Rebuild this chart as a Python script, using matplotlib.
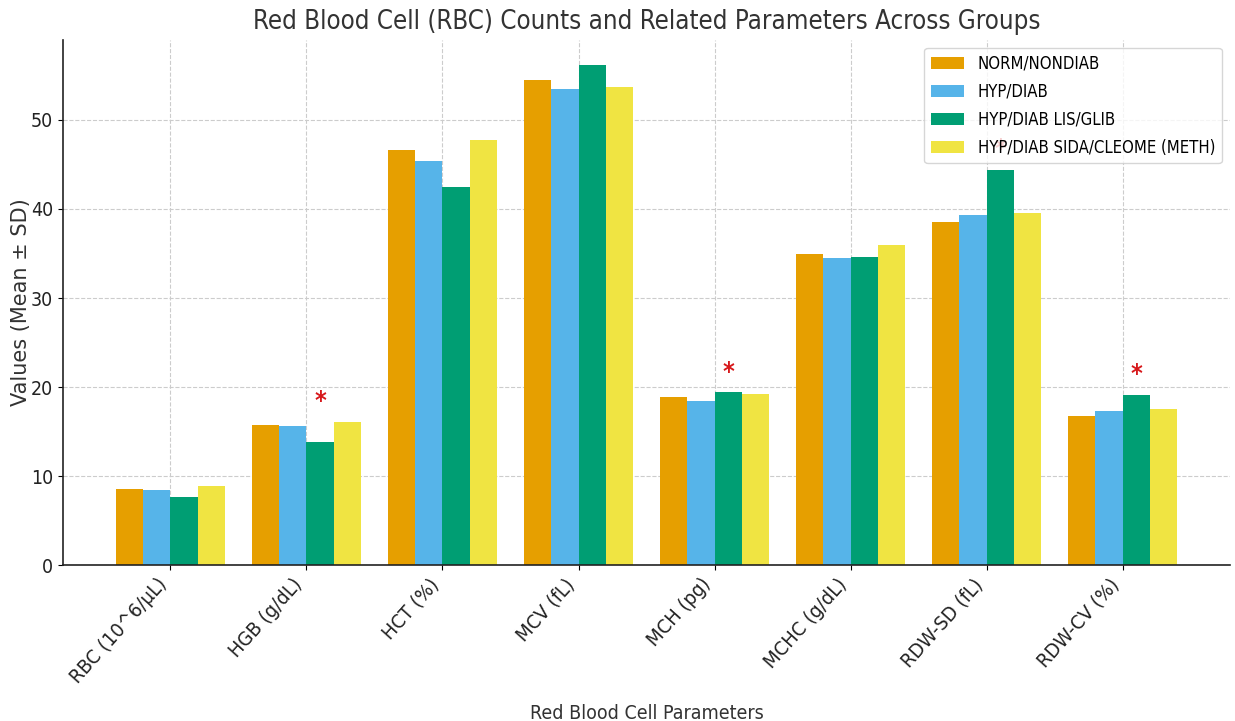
import matplotlib
matplotlib.use("Agg")
import matplotlib.pyplot as plt
import numpy as np

plt.rcParams["font.family"] = ["DejaVu Sans"]
plt.rcParams["font.stretch"] = "condensed"

parameters = ["RBC (10^6/µL)", "HGB (g/dL)", "HCT (%)", "MCV (fL)",
              "MCH (pg)", "MCHC (g/dL)", "RDW-SD (fL)", "RDW-CV (%)"]

norm_nondiab = [8.56, 15.77, 46.66, 54.5, 18.9, 35.0, 38.5, 16.8]
hyp_diab = [8.45, 15.65, 45.4, 53.5, 18.4, 34.5, 39.35, 17.3]
hyp_diab_lis_glib = [7.62, 13.85, 42.45, 56.2, 19.45, 34.65, 44.4, 19.15]
hyp_diab_sida_cleome = [8.93, 16.14, 47.8, 53.7, 19.2, 35.9, 39.6, 17.5]

group_names = ["NORM/NONDIAB", "HYP/DIAB", "HYP/DIAB LIS/GLIB",
               "HYP/DIAB SIDA/CLEOME (METH)"]
group_colors = ["#E69F00", "#56B4E9", "#009E73", "#F0E442"]

# parameters flagged as significant (marked with a red asterisk)
significant = ["HGB (g/dL)", "MCH (pg)", "RDW-SD (fL)", "RDW-CV (%)"]

series = [norm_nondiab, hyp_diab, hyp_diab_lis_glib, hyp_diab_sida_cleome]

fig = plt.figure(figsize=(12.35, 7.21), dpi=100)
ax = fig.add_axes([0.051, 0.216, 0.945, 0.729])

x = np.arange(len(parameters))
width = 0.2
for i, (vals, name, col) in enumerate(zip(series, group_names, group_colors)):
    ax.bar(x + (i - 1.5) * width, vals, width, label=name, color=col, zorder=2)

for j, p in enumerate(parameters):
    if p in significant:
        top = max(s[j] for s in series)
        ax.text(x[j] + 0.5 * width, top + 2.3, "*", color="#D7191C",
                fontsize=18, fontweight="bold", ha="center", va="center",
                zorder=1)

ax.set_xticks(x)
ax.set_xticklabels(parameters, rotation=48, ha="right", fontsize=14.5,
                   color="#222222")
ax.tick_params(axis="y", labelsize=14, labelcolor="#222222")
ax.set_yticks([0, 10, 20, 30, 40, 50])

ax.grid(True, linestyle="--", color="#cccccc", linewidth=0.8, zorder=0)
ax.set_axisbelow(True)
for side in ("top", "right"):
    ax.spines[side].set_visible(False)
for side in ("left", "bottom"):
    ax.spines[side].set_color("#222222")
    ax.spines[side].set_linewidth(1.2)

ax.set_title("Red Blood Cell (RBC) Counts and Related Parameters Across Groups",
             fontsize=18.5, color="#333333", pad=8)
ax.set_xlabel("Red Blood Cell Parameters", fontsize=14, color="#333333",
              labelpad=12)
ax.set_ylabel("Values (Mean ± SD)", fontsize=15, color="#333333",
              fontstretch="normal", labelpad=0)

leg = ax.legend(loc="upper right", fontsize=12, framealpha=0.8,
                labelspacing=0.6, edgecolor="#cccccc", fancybox=True)
leg.set_zorder(3)

fig.savefig("out.png", dpi=100)
